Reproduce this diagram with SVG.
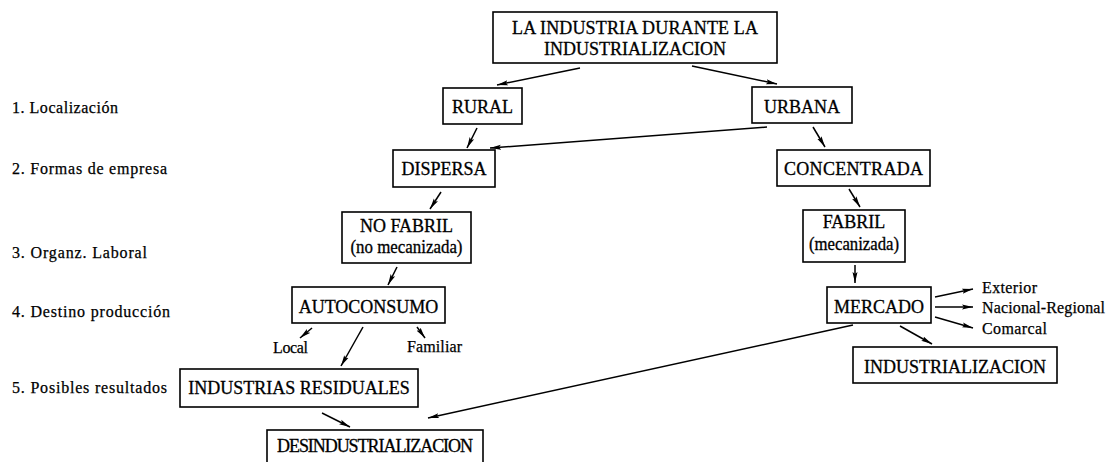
<svg xmlns="http://www.w3.org/2000/svg" width="1111" height="462" viewBox="0 0 1111 462">
<defs>
<style>
.box{fill:#fff;stroke:#000;stroke-width:1.6}
.t{font-family:"Liberation Serif","Times New Roman",serif;font-size:18px;fill:#000;stroke:#000;stroke-width:0.3;text-anchor:middle}
.l{font-family:"Liberation Serif","Times New Roman",serif;font-size:16px;fill:#000;stroke:#000;stroke-width:0.25}
.c{stroke:#000;stroke-width:1.5;fill:none;marker-end:url(#ah)}
</style>
<marker id="ah" markerUnits="userSpaceOnUse" markerWidth="12" markerHeight="6" refX="11" refY="3" orient="auto">
<path d="M0,0.5 L11,3 L0,5.5 L2,3 Z" fill="#000"/>
</marker>
</defs>
<rect width="1111" height="462" fill="#fff"/>
<g id="levels">
<text class="l" x="12" y="113" textLength="106" lengthAdjust="spacing">1.  Localización</text>
<text class="l" x="12" y="174" textLength="155" lengthAdjust="spacing">2.  Formas de empresa</text>
<text class="l" x="12" y="258" textLength="135" lengthAdjust="spacing">3.  Organz. Laboral</text>
<text class="l" x="12" y="317" textLength="158" lengthAdjust="spacing">4.  Destino producción</text>
<text class="l" x="12" y="393" textLength="155" lengthAdjust="spacing">5.  Posibles resultados</text>
</g>
<g id="n-top"><rect class="box" x="493" y="12" width="284" height="51"/>
<text class="t" x="635" y="34" textLength="246" lengthAdjust="spacing">LA INDUSTRIA DURANTE LA</text>
<text class="t" x="635" y="55">INDUSTRIALIZACION</text></g>
<g id="n-rural"><rect class="box" x="443" y="88" width="79" height="36"/><text class="t" x="482.5" y="113">RURAL</text></g>
<g id="n-urbana"><rect class="box" x="752" y="87" width="100" height="36"/><text class="t" x="802" y="113">URBANA</text></g>
<g id="n-dispersa"><rect class="box" x="393" y="150" width="102" height="37"/><text class="t" x="444" y="175">DISPERSA</text></g>
<g id="n-concentrada"><rect class="box" x="777" y="150" width="153" height="36"/><text class="t" x="853.5" y="175" textLength="139" lengthAdjust="spacing">CONCENTRADA</text></g>
<g id="n-nofabril"><rect class="box" x="342" y="212" width="129" height="51"/>
<text class="t" x="406.5" y="232">NO FABRIL</text>
<text class="t" x="406.5" y="253" textLength="112" lengthAdjust="spacingAndGlyphs">(no mecanizada)</text></g>
<g id="n-fabril"><rect class="box" x="803" y="210" width="102" height="52"/>
<text class="t" x="854" y="228">FABRIL</text>
<text class="t" x="854" y="250" textLength="90" lengthAdjust="spacingAndGlyphs">(mecanizada)</text></g>
<g id="n-autoconsumo"><rect class="box" x="292" y="287" width="153" height="36"/><text class="t" x="368.5" y="313">AUTOCONSUMO</text></g>
<g id="n-mercado"><rect class="box" x="827" y="287" width="104" height="36"/><text class="t" x="879" y="313">MERCADO</text></g>
<g id="n-residuales"><rect class="box" x="180" y="369" width="238" height="38"/><text class="t" x="299" y="394">INDUSTRIAS RESIDUALES</text></g>
<g id="n-industrializacion"><rect class="box" x="853" y="347" width="204" height="36"/><text class="t" x="955" y="373">INDUSTRIALIZACION</text></g>
<g id="n-desind"><rect class="box" x="267" y="430" width="216" height="40"/><text class="t" x="375" y="452" textLength="196" lengthAdjust="spacing">DESINDUSTRIALIZACION</text></g>
<g id="labels">
<text class="l" x="982" y="293" textLength="55" lengthAdjust="spacing">Exterior</text>
<text class="l" x="982" y="313" textLength="123" lengthAdjust="spacing">Nacional-Regional</text>
<text class="l" x="982" y="334" textLength="65" lengthAdjust="spacing">Comarcal</text>
<text class="l" x="273" y="353" textLength="35" lengthAdjust="spacing">Local</text>
<text class="l" x="407" y="352" textLength="55" lengthAdjust="spacing">Familiar</text>
</g>
<g id="connectors">
<line class="c" x1="580" y1="68" x2="497" y2="85"/>
<line class="c" x1="692" y1="66" x2="777" y2="84"/>
<line class="c" x1="477" y1="128" x2="467" y2="148"/>
<line class="c" x1="767" y1="127" x2="490" y2="148"/>
<line class="c" x1="813" y1="127" x2="825" y2="147"/>
<line class="c" x1="441" y1="192" x2="430" y2="209"/>
<line class="c" x1="849" y1="189" x2="860" y2="207"/>
<line class="c" x1="397" y1="267" x2="388" y2="285"/>
<line class="c" x1="855" y1="265" x2="855" y2="283"/>
<line class="c" x1="935" y1="297" x2="973" y2="289"/>
<line class="c" x1="935" y1="307" x2="973" y2="307"/>
<line class="c" x1="935" y1="317" x2="973" y2="328"/>
<line class="c" x1="900" y1="326" x2="932" y2="344"/>
<line class="c" x1="853" y1="325" x2="428" y2="418"/>
<line class="c" x1="312" y1="328" x2="300" y2="338"/>
<line class="c" x1="363" y1="327" x2="341" y2="366"/>
<line class="c" x1="417" y1="327" x2="425" y2="338"/>
<line class="c" x1="322" y1="413" x2="350" y2="427"/>
</g>
</svg>
